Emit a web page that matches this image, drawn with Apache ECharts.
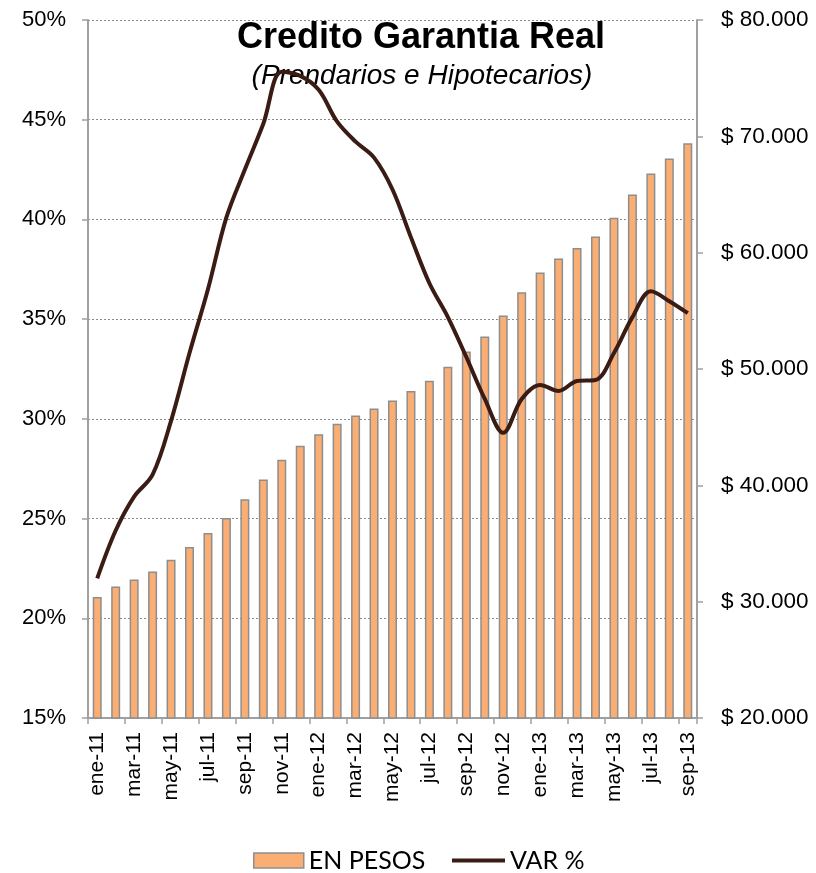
<!DOCTYPE html>
<html>
<head>
<meta charset="utf-8">
<script src="https://cdn.jsdelivr.net/npm/echarts@6/dist/echarts.min.js"></script>
<style>
html,body{margin:0;padding:0;background:#fff;}
#c{width:816px;height:873px;}
</style>
</head>
<body>
<div id="c"></div>
<script>
const categories = ['ene-11','feb-11','mar-11','abr-11','may-11','jun-11','jul-11','ago-11','sep-11','oct-11','nov-11','dic-11',
  'ene-12','feb-12','mar-12','abr-12','may-12','jun-12','jul-12','ago-12','sep-12','oct-12','nov-12','dic-12',
  'ene-13','feb-13','mar-13','abr-13','may-13','jun-13','jul-13','ago-13','sep-13'];
const enPesos = [30400,31300,31900,32600,33600,34700,35900,37200,38800,40500,42200,43400,
  44400,45300,46000,46600,47300,48100,49000,50200,51500,52800,54600,56600,
  58300,59500,60400,61400,63000,65000,66800,68100,69400];
const varPct = [22.0,24.4,26.1,27.2,29.9,33.3,36.5,40.1,42.5,44.8,47.4,47.2,
  46.5,44.9,43.9,43.1,41.5,39.1,36.8,35.1,33.1,31.0,29.3,31.0,
  31.7,31.4,31.9,31.95,33.3,35.1,36.4,35.9,35.3];
const leftTicks = {min:15, max:50, interval:5};
const rightTicks = {min:20000, max:80000, interval:10000};

const chart = echarts.init(document.getElementById('c'));
const F = 'Liberation Sans, Arial, sans-serif';
function fmtPesos(v){ return '$ ' + String(v).replace(/\B(?=(\d{3})+(?!\d))/g, '.'); }
chart.setOption({
  animation:false,
  backgroundColor:'#fff',
  title:[
    {text:'Credito Garantia Real', left:416, top:15, textAlign:'center', z:1,
     textStyle:{fontFamily:F, fontSize:36, fontWeight:'bold', color:'#000'}},
    {text:'(Prendarios e Hipotecarios)', left:417, top:57, textAlign:'center', z:1,
     textStyle:{fontFamily:F, fontSize:28, fontStyle:'italic', fontWeight:'normal', color:'#000'}}
  ],
  legend:[
    {data:['EN PESOS'], left:248, top:843, icon:'rect', itemWidth:50, itemHeight:15, itemGap:8, itemStyle:{borderWidth:1.5},
     textStyle:{fontFamily:'Lato, sans-serif', fontSize:25, color:'#000'}},
    {data:['VAR %'], left:447, top:843, icon:'rect', itemWidth:53, itemHeight:4, itemGap:6,
     textStyle:{fontFamily:'Lato, sans-serif', fontSize:25, color:'#000'}}
  ],
  grid:{left:88, right:119, top:20, bottom:155, containLabel:false},
  xAxis:{
    type:'category', data:categories, boundaryGap:true,
    axisLine:{lineStyle:{color:'#a0a0a0', width:2}},
    axisTick:{show:true, interval:1, length:6, lineStyle:{color:'#a0a0a0', width:1.5}},
    axisLabel:{interval:1, rotate:90, margin:14, fontFamily:F, fontSize:21, color:'#000'}
  },
  yAxis:[
    {type:'value', position:'left', min:leftTicks.min, max:leftTicks.max, interval:leftTicks.interval,
     axisLine:{show:true, lineStyle:{color:'#a0a0a0', width:2}},
     axisTick:{show:true, length:6, lineStyle:{color:'#a0a0a0', width:1.5}},
     axisLabel:{formatter:'{value}%', margin:22, fontFamily:F, fontSize:22, color:'#000'},
     splitLine:{show:true, lineStyle:{color:'#8a8a8a', type:[2,2], width:1}}},
    {type:'value', position:'right', min:rightTicks.min, max:rightTicks.max, interval:rightTicks.interval,
     axisLine:{show:true, lineStyle:{color:'#a0a0a0', width:2}},
     axisTick:{show:true, length:6, lineStyle:{color:'#a0a0a0', width:1.5}},
     axisLabel:{formatter:fmtPesos, margin:24, fontFamily:F, fontSize:22.5, color:'#000'},
     splitLine:{show:false}}
  ],
  series:[
    {name:'EN PESOS', type:'bar', yAxisIndex:1, data:enPesos, barWidth:9, z:2,
     itemStyle:{color:'#FBAE74', borderColor:'#8e8e8e', borderWidth:1.5}},
    {name:'VAR %', type:'line', yAxisIndex:0, data:varPct, smooth:0.35, symbol:'none', z:5,
     lineStyle:{color:'#3B1C14', width:4}, itemStyle:{color:'#3B1C14'}}
  ]
});
</script>
</body>
</html>
